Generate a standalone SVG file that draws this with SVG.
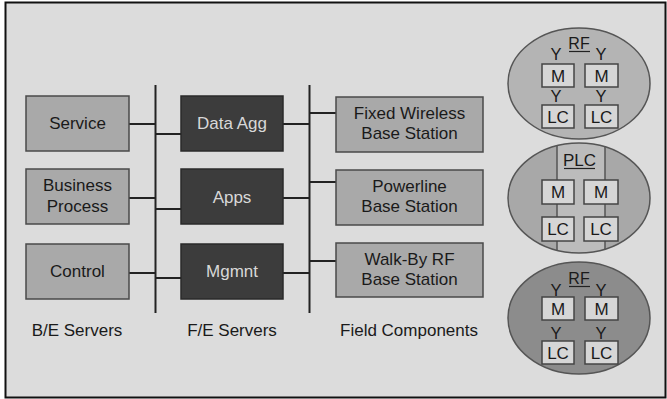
<svg xmlns="http://www.w3.org/2000/svg" width="667" height="399" viewBox="0 0 667 399">
<defs>
<style>
text{font-family:"Liberation Sans",Arial,sans-serif;text-anchor:middle}
.be{fill:#a9a9a9;stroke:#4a4a4a;stroke-width:1.5}
.fe{fill:#3c3c3c;stroke:#2a2a2a;stroke-width:1.5}
.lbl{font-size:17px;fill:#1a1a1a}
.lblw{font-size:17px;fill:#d8d8d8}
.wire{stroke:#222;stroke-width:2;fill:none}
.ell{stroke:#555;stroke-width:1.5}
.ib{fill:#d6d6d6;stroke:#444;stroke-width:1.5}
.it{font-size:17px;fill:#1a1a1a}
.y{font-size:16.5px;fill:#1a1a1a}
.ul{stroke:#222;stroke-width:1.2}
</style>
<clipPath id="plcClip"><ellipse cx="579" cy="198" rx="71" ry="55"/></clipPath>
</defs>
<rect x="0" y="0" width="667" height="399" fill="#ffffff"/>
<rect x="5.5" y="2.5" width="660" height="395" fill="#dcdcdc" stroke="#111" stroke-width="2"/>

<g id="connectors">
<line class="wire" x1="155.5" y1="85" x2="155.5" y2="313"/>
<line class="wire" x1="309.5" y1="85" x2="309.5" y2="313"/>
<line class="wire" x1="129" y1="124" x2="155" y2="124"/>
<line class="wire" x1="129" y1="198" x2="155" y2="198"/>
<line class="wire" x1="129" y1="273" x2="155" y2="273"/>
<line class="wire" x1="155" y1="134" x2="181" y2="134"/>
<line class="wire" x1="155" y1="209" x2="181" y2="209"/>
<line class="wire" x1="155" y1="278" x2="181" y2="278"/>
<line class="wire" x1="283" y1="124" x2="309" y2="124"/>
<line class="wire" x1="283" y1="198" x2="309" y2="198"/>
<line class="wire" x1="283" y1="273" x2="309" y2="273"/>
<line class="wire" x1="309" y1="113" x2="336" y2="113"/>
<line class="wire" x1="309" y1="182" x2="336" y2="182"/>
<line class="wire" x1="309" y1="261" x2="336" y2="261"/>
</g>

<g id="service"><rect class="be" x="26" y="96" width="103" height="55"/><text class="lbl" x="77.5" y="129">Service</text></g>
<g id="business-process"><rect class="be" x="26" y="169" width="103" height="55"/><text class="lbl" x="77.5" y="191">Business</text><text class="lbl" x="77.5" y="212">Process</text></g>
<g id="control"><rect class="be" x="26" y="244" width="103" height="55"/><text class="lbl" x="77.5" y="277">Control</text></g>

<g id="data-agg"><rect class="fe" x="181" y="96" width="102" height="55"/><text class="lblw" x="232" y="129">Data Agg</text></g>
<g id="apps"><rect class="fe" x="181" y="169" width="102" height="55"/><text class="lblw" x="232" y="203">Apps</text></g>
<g id="mgmnt"><rect class="fe" x="181" y="244" width="102" height="55"/><text class="lblw" x="232" y="277">Mgmnt</text></g>

<g id="fixed-wireless"><rect class="be" x="336" y="97" width="147" height="55"/><text class="lbl" x="409.5" y="119">Fixed Wireless</text><text class="lbl" x="409.5" y="139">Base Station</text></g>
<g id="powerline"><rect class="be" x="336" y="170" width="147" height="55"/><text class="lbl" x="409.5" y="192">Powerline</text><text class="lbl" x="409.5" y="212">Base Station</text></g>
<g id="walk-by"><rect class="be" x="336" y="243" width="147" height="54"/><text class="lbl" x="409.5" y="265">Walk-By RF</text><text class="lbl" x="409.5" y="285">Base Station</text></g>

<g id="labels">
<text class="lbl" x="77" y="336">B/E Servers</text>
<text class="lbl" x="232" y="336">F/E Servers</text>
<text class="lbl" x="409" y="336">Field Components</text>
</g>

<g id="rf-cluster-1">
<ellipse class="ell" cx="579" cy="83.5" rx="71" ry="55.5" fill="#b4b4b4"/>
<text class="it" x="579" y="49" style="font-size:16px">RF</text>
<line class="ul" x1="569" y1="51.5" x2="590" y2="51.5"/>
<text class="y" x="556" y="60">Y</text><text class="y" x="601" y="60">Y</text>
<rect class="ib" x="542" y="64" width="32" height="23"/><text class="it" x="558" y="82">M</text>
<rect class="ib" x="585" y="64" width="33" height="23"/><text class="it" x="601.5" y="82">M</text>
<text class="y" x="556" y="102">Y</text><text class="y" x="601" y="102">Y</text>
<rect class="ib" x="542" y="105" width="32" height="23"/><text class="it" x="558" y="123">LC</text>
<rect class="ib" x="585" y="105" width="33" height="23"/><text class="it" x="601.5" y="123">LC</text>
</g>

<g id="plc-cluster">
<ellipse cx="579" cy="198" rx="71" ry="55" fill="#a8a8a8"/>
<rect x="557" y="140" width="48" height="120" fill="#bcbcbc" clip-path="url(#plcClip)"/>
<g clip-path="url(#plcClip)">
<line stroke="#555" stroke-width="1.5" x1="557" y1="140" x2="557" y2="260"/>
<line stroke="#555" stroke-width="1.5" x1="605" y1="140" x2="605" y2="260"/>
</g>
<ellipse class="ell" cx="579" cy="198" rx="71" ry="55" fill="none"/>
<text class="it" x="579.5" y="166">PLC</text>
<line class="ul" x1="564" y1="168.5" x2="595" y2="168.5"/>
<rect class="ib" x="542" y="180" width="32" height="24"/><text class="it" x="558" y="198">M</text>
<rect class="ib" x="584" y="180" width="34" height="24"/><text class="it" x="601" y="198">M</text>
<rect class="ib" x="542" y="217" width="32" height="24"/><text class="it" x="558" y="235">LC</text>
<rect class="ib" x="584" y="217" width="34" height="24"/><text class="it" x="601" y="235">LC</text>
</g>

<g id="rf-cluster-2">
<ellipse class="ell" cx="579" cy="318" rx="71" ry="56" fill="#8c8c8c"/>
<text class="it" x="579" y="284" style="font-size:16px">RF</text>
<line class="ul" x1="569" y1="286.5" x2="590" y2="286.5"/>
<text class="y" x="556" y="295.5">Y</text><text class="y" x="601" y="295.5">Y</text>
<rect class="ib" x="542" y="297" width="32" height="23"/><text class="it" x="558" y="315">M</text>
<rect class="ib" x="585" y="297" width="33" height="23"/><text class="it" x="601.5" y="315">M</text>
<text class="y" x="556" y="338.5">Y</text><text class="y" x="601" y="338.5">Y</text>
<rect class="ib" x="542" y="341" width="32" height="23"/><text class="it" x="558" y="359">LC</text>
<rect class="ib" x="585" y="341" width="33" height="23"/><text class="it" x="601.5" y="359">LC</text>
</g>
</svg>
